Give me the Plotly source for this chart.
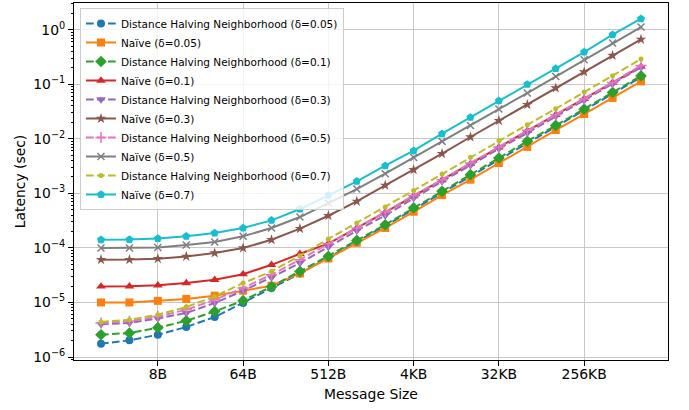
import plotly.graph_objects as go

sizes = [2 ** k for k in range(1, 21)]  # 2B .. 1MB
x_tick_vals = [8, 64, 512, 4096, 32768, 262144]
x_tick_text = ["8B", "64B", "512B", "4KB", "32KB", "256KB"]
y_tick_vals = [1e-6, 1e-5, 1e-4, 1e-3, 1e-2, 1e-1, 1e0]
y_tick_text = ["10<sup>−6</sup>", "10<sup>−5</sup>", "10<sup>−4</sup>", "10<sup>−3</sup>",
               "10<sup>−2</sup>", "10<sup>−1</sup>", "10<sup>0</sup>"]

dhn_005 = [1.75e-6, 2.02e-6, 2.56e-6, 3.55e-6, 5.4e-6, 9.8e-6, 1.84e-5, 3.4e-5, 6.6e-5, 1.3e-4,
           2.55e-4, 5.1e-4, 1.03e-3, 2.07e-3, 4.15e-3, 8.4e-3, 1.68e-2, 3.35e-2, 6.7e-2, 0.135]
naive_005 = [1.0e-5, 1.0e-5, 1.07e-5, 1.16e-5, 1.33e-5, 1.64e-5, 2.03e-5, 3.4e-5, 6.4e-5, 1.24e-4,
             2.32e-4, 4.6e-4, 9.3e-4, 1.78e-3, 3.6e-3, 7.1e-3, 1.45e-2, 2.85e-2, 5.6e-2, 0.113]
dhn_01 = [2.56e-6, 2.75e-6, 3.45e-6, 4.6e-6, 6.85e-6, 1.08e-5, 1.95e-5, 3.7e-5, 7.0e-5, 1.37e-4,
          2.66e-4, 5.4e-4, 1.09e-3, 2.2e-3, 4.45e-3, 9.0e-3, 1.76e-2, 3.5e-2, 7.1e-2, 0.142]
naive_01 = [1.97e-5, 1.98e-5, 2.06e-5, 2.27e-5, 2.6e-5, 3.3e-5, 4.9e-5, 7.8e-5, 1.2e-4, 2.3e-4,
            4.5e-4, 8.9e-4, 1.75e-3, 3.5e-3, 7.0e-3, 1.4e-2, 2.75e-2, 5.4e-2, 0.107, 0.21]
dhn_03 = [4.0e-6, 4.2e-6, 5.1e-6, 6.4e-6, 9.8e-6, 1.64e-5, 2.88e-5, 5.3e-5, 1.04e-4, 2.07e-4,
          3.94e-4, 8.2e-4, 1.66e-3, 3.26e-3, 6.6e-3, 1.28e-2, 2.58e-2, 5.06e-2, 0.101, 0.204]
naive_03 = [6.08e-5, 6.1e-5, 6.34e-5, 6.98e-5, 8.05e-5, 9.95e-5, 1.41e-4, 2.25e-4, 3.89e-4, 7.13e-4,
            1.4e-3, 2.71e-3, 5.33e-3, 1.08e-2, 2.15e-2, 4.22e-2, 8.53e-2, 0.168, 0.337, 0.665]
dhn_05 = [4.2e-6, 4.5e-6, 5.55e-6, 7.36e-6, 1.12e-5, 1.84e-5, 3.23e-5, 6.08e-5, 1.19e-4, 2.31e-4,
          4.55e-4, 9.18e-4, 1.78e-3, 3.6e-3, 7.08e-3, 1.43e-2, 2.77e-2, 5.43e-2, 0.108, 0.222]
naive_05 = [1.0e-4, 1.0e-4, 1.02e-4, 1.13e-4, 1.28e-4, 1.63e-4, 2.32e-4, 3.68e-4, 6.65e-4, 1.2e-3,
            2.29e-3, 4.56e-3, 8.97e-3, 1.76e-2, 3.52e-2, 6.9e-2, 0.139, 0.282, 0.57, 1.12]
dhn_07 = [4.4e-6, 4.8e-6, 5.96e-6, 8.24e-6, 1.29e-5, 2.27e-5, 3.71e-5, 7.2e-5, 1.46e-4, 2.86e-4,
          5.62e-4, 1.13e-3, 2.26e-3, 4.57e-3, 9.23e-3, 1.81e-2, 3.56e-2, 7.2e-2, 0.144, 0.29]
naive_07 = [1.41e-4, 1.42e-4, 1.48e-4, 1.63e-4, 1.87e-4, 2.32e-4, 3.2e-4, 5.16e-4, 9.2e-4, 1.66e-3,
            3.21e-3, 6.05e-3, 1.24e-2, 2.47e-2, 5.0e-2, 9.95e-2, 0.195, 0.39, 0.81, 1.59]

series = [
    ("Distance Halving Neighborhood (δ=0.05)", dhn_005, "#1f77b4", "circle", 8, True),
    ("Naïve (δ=0.05)", naive_005, "#ff7f0e", "square", 8, False),
    ("Distance Halving Neighborhood (δ=0.1)", dhn_01, "#2ca02c", "diamond", 9, True),
    ("Naïve (δ=0.1)", naive_01, "#d62728", "triangle-up", 8.5, False),
    ("Distance Halving Neighborhood (δ=0.3)", dhn_03, "#9467bd", "triangle-down", 8.5, True),
    ("Naïve (δ=0.3)", naive_03, "#8c564b", "star", 8, False),
    ("Distance Halving Neighborhood (δ=0.5)", dhn_05, "#e377c2", "cross-thin", 8, True),
    ("Naïve (δ=0.5)", naive_05, "#7f7f7f", "x-thin", 7, False),
    ("Distance Halving Neighborhood (δ=0.7)", dhn_07, "#bcbd22", "circle", 5, True),
    ("Naïve (δ=0.7)", naive_07, "#17becf", "pentagon", 8.5, False),
]

fig = go.Figure()
for name, vals, color, sym, msize, dashed in series:
    thin = sym.endswith("-thin")
    fig.add_trace(go.Scatter(
        x=sizes, y=vals, name=name, mode="lines+markers",
        line=dict(color=color, width=2, dash="7.7px,3.3px" if dashed else "solid"),
        marker=dict(symbol=sym, size=msize, color=color,
                    line=dict(color=color, width=1.5 if thin else 0)),
    ))

minor_vals = [m * 10.0 ** e for e in range(-7, 1) for m in range(2, 10)]
axis_font = dict(family="DejaVu Sans", size=13.9, color="black")

fig.update_layout(
    width=689, height=410,
    margin=dict(l=74, r=21, t=3, b=50),
    paper_bgcolor="white", plot_bgcolor="white",
    font=dict(family="DejaVu Sans", size=13.9, color="black"),
    showlegend=True,
    legend=dict(x=0.0101, y=0.986, xanchor="left", yanchor="top",
                bgcolor="rgba(255,255,255,0.8)", bordercolor="#cccccc", borderwidth=1,
                font=dict(family="DejaVu Sans", size=10.5, color="black"),
                itemwidth=30, tracegroupgap=0),
    xaxis=dict(
        type="log", range=[0.01505, 6.3066],
        tickmode="array", tickvals=x_tick_vals, ticktext=x_tick_text,
        tickfont=axis_font, ticklabelstandoff=-4,
        showgrid=True, gridcolor="#c8c8c8", gridwidth=1,
        showline=True, mirror=True, linecolor="black", linewidth=1,
        ticks="outside", ticklen=5, tickcolor="black", tickwidth=1,
        title=dict(text="Message Size", font=axis_font, standoff=8),
        zeroline=False,
    ),
    yaxis=dict(
        type="log", range=[-6.055, 0.49],
        tickmode="array", tickvals=y_tick_vals, ticktext=y_tick_text,
        tickfont=axis_font,
        showgrid=True, gridcolor="#c8c8c8", gridwidth=1,
        showline=True, mirror=True, linecolor="black", linewidth=1,
        ticks="outside", ticklen=5, tickcolor="black", tickwidth=1,
        minor=dict(tickmode="array", tickvals=minor_vals, ticks="outside", ticklen=2.5,
                   tickcolor="black", tickwidth=0.8, showgrid=False),
        title=dict(text="Latency (sec)", font=axis_font, standoff=4),
        zeroline=False,
    ),
)

fig.write_html("out.html")
